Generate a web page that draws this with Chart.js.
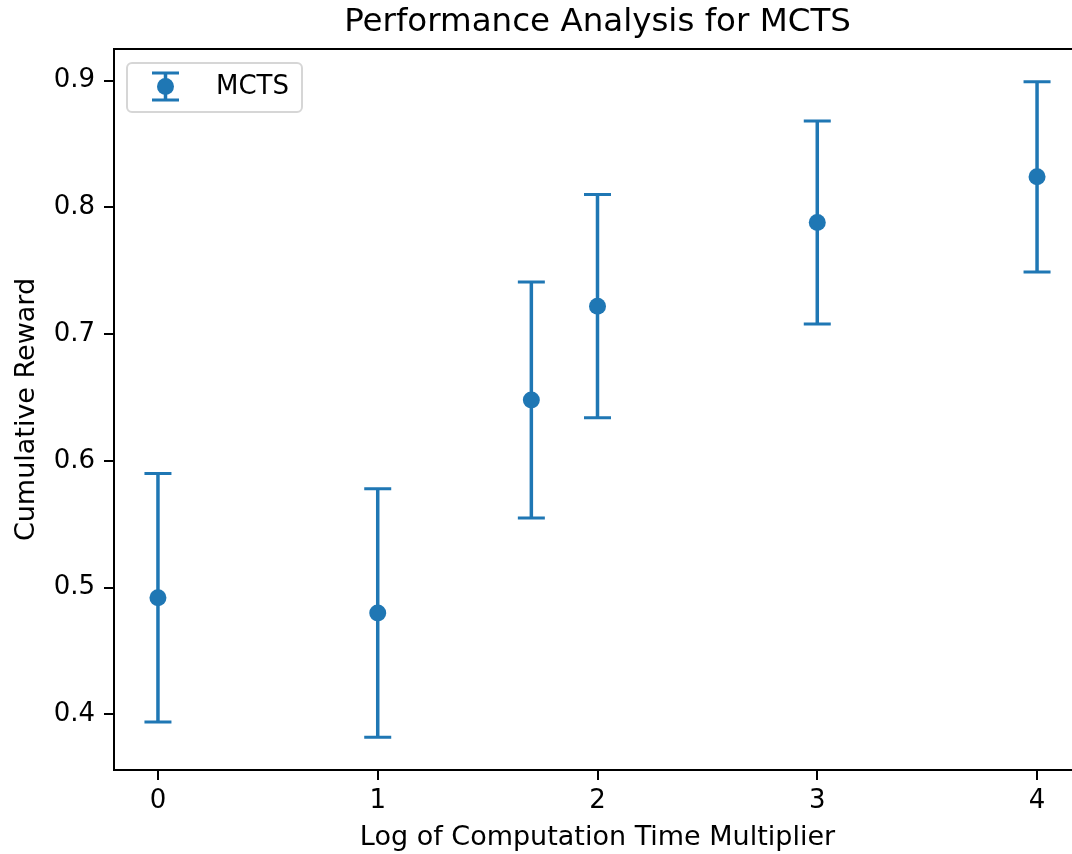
<!DOCTYPE html>
<html>
<head>
<meta charset="utf-8">
<script src="https://cdn.jsdelivr.net/npm/chart.js@4"></script>
<style>
  html, body { margin: 0; padding: 0; background: #fff; overflow: hidden; }
  #wrap { width: 1090px; height: 854px; }
</style>
</head>
<body>
<div id="wrap"><canvas id="myChart" width="1090" height="854"></canvas></div>
<script>
const xValues = [0, 1, 1.699, 2, 3, 4];
const rewards = [0.492, 0.480, 0.648, 0.722, 0.788, 0.824];
const errors = [0.098, 0.098, 0.093, 0.088, 0.080, 0.075];
const xTicks = [0, 1, 2, 3, 4];
const yTicks = [0.4, 0.5, 0.6, 0.7, 0.8, 0.9];

const blue = '#1f77b4';
const fontFamily = 'DejaVu Sans';

// same 5% margins matplotlib adds around the data
function padRange(lo, hi) {
    const m = (hi - lo) * 0.05;
    return [lo - m, hi + m];
}
const [xMin, xMax] = padRange(Math.min(...xValues), Math.max(...xValues));
const [yMin, yMax] = padRange(
    Math.min(...rewards.map((r, i) => r - errors[i])),
    Math.max(...rewards.map((r, i) => r + errors[i]))
);

const errorBars = {
    id: 'errorBars',
    beforeDatasetsDraw(chart) {
        const ctx = chart.ctx;
        const xs = chart.scales.x, ys = chart.scales.y;
        ctx.save();
        ctx.strokeStyle = blue;
        xValues.forEach((x, i) => {
            const px = xs.getPixelForValue(x);
            const top = ys.getPixelForValue(rewards[i] + errors[i]);
            const bot = ys.getPixelForValue(rewards[i] - errors[i]);
            ctx.lineWidth = 3.5;
            ctx.beginPath();
            ctx.moveTo(px, top);
            ctx.lineTo(px, bot);
            ctx.stroke();
            ctx.lineWidth = 3;
            ctx.beginPath();
            ctx.moveTo(px - 13.5, top); ctx.lineTo(px + 13.5, top);
            ctx.moveTo(px - 13.5, bot); ctx.lineTo(px + 13.5, bot);
            ctx.stroke();
        });
        ctx.restore();
    }
};

const frame = {
    id: 'frame',
    afterDatasetsDraw(chart) {
        const a = chart.chartArea, ctx = chart.ctx;
        ctx.save();
        ctx.strokeStyle = '#000';
        ctx.lineWidth = 2;
        ctx.strokeRect(a.left, a.top, a.right - a.left, a.bottom - a.top);
        ctx.restore();
    }
};

const boxLegend = {
    id: 'boxLegend',
    afterDraw(chart) {
        const a = chart.chartArea, ctx = chart.ctx;
        const bx = a.left + 13, by = a.top + 14, bw = 175, bh = 49;
        ctx.save();
        ctx.fillStyle = 'rgba(255,255,255,0.8)';
        ctx.strokeStyle = '#d6d6d6';
        ctx.lineWidth = 2;
        ctx.beginPath();
        ctx.roundRect(bx, by, bw, bh, 5);
        ctx.fill();
        ctx.stroke();

        const cx = bx + 38.5, cy = by + 23.5;
        ctx.strokeStyle = blue;
        ctx.lineWidth = 3.5;
        ctx.beginPath();
        ctx.moveTo(cx, cy - 13.5); ctx.lineTo(cx, cy + 13.5);
        ctx.stroke();
        ctx.lineWidth = 3;
        ctx.beginPath();
        ctx.moveTo(cx - 13.5, cy - 13.5); ctx.lineTo(cx + 13.5, cy - 13.5);
        ctx.moveTo(cx - 13.5, cy + 13.5); ctx.lineTo(cx + 13.5, cy + 13.5);
        ctx.stroke();
        ctx.fillStyle = blue;
        ctx.beginPath();
        ctx.arc(cx, cy, 8.5, 0, Math.PI * 2);
        ctx.fill();

        ctx.fillStyle = '#000';
        ctx.font = '26px "' + fontFamily + '"';
        ctx.textBaseline = 'middle';
        ctx.fillText(chart.data.datasets[0].label, bx + 89, cy + 1);
        ctx.restore();
    }
};

const ctx = document.getElementById('myChart').getContext('2d');
new Chart(ctx, {
    type: 'scatter',
    data: {
        datasets: [{
            label: 'MCTS',
            data: xValues.map((x, i) => ({ x, y: rewards[i] })),
            backgroundColor: blue,
            borderWidth: 0,
            pointRadius: 8.5,
            pointHoverRadius: 8.5
        }]
    },
    options: {
        responsive: false,
        animation: false,
        devicePixelRatio: 1,
        layout: { padding: { left: 0, right: 9, top: 0, bottom: 0 } },
        plugins: {
            legend: { display: false },
            tooltip: { enabled: false },
            title: {
                display: true,
                text: 'Performance Analysis for MCTS',
                fullSize: false,
                color: '#000',
                font: { family: fontFamily, size: 32.5, weight: 'normal' },
                padding: { top: 3, bottom: 7 }
            }
        },
        scales: {
            x: {
                type: 'linear',
                min: xMin,
                max: xMax,
                afterBuildTicks: s => { s.ticks = xTicks.map(v => ({ value: v })); },
                afterFit: s => { s.height = 84; },
                grid: { drawOnChartArea: false, drawTicks: true, tickLength: 10, lineWidth: 2, color: '#000' },
                border: { display: false },
                ticks: {
                    color: '#000',
                    padding: 6,
                    font: { family: fontFamily, size: 26 },
                    callback: v => String(v)
                },
                title: {
                    display: true,
                    text: 'Log of Computation Time Multiplier',
                    color: '#000',
                    font: { family: fontFamily, size: 27 },
                    padding: { top: 0, bottom: 0 }
                }
            },
            y: {
                type: 'linear',
                min: yMin,
                max: yMax,
                afterBuildTicks: s => { s.ticks = yTicks.map(v => ({ value: v })); },
                afterFit: s => { s.width = 114; },
                grid: { drawOnChartArea: false, drawTicks: true, tickLength: 10, lineWidth: 2, color: '#000' },
                border: { display: false },
                ticks: {
                    color: '#000',
                    padding: 9,
                    font: { family: fontFamily, size: 26 },
                    callback: v => v.toFixed(1)
                },
                title: {
                    display: true,
                    text: 'Cumulative Reward',
                    color: '#000',
                    font: { family: fontFamily, size: 27 },
                    padding: { top: 11, bottom: 0 }
                }
            }
        }
    },
    plugins: [errorBars, frame, boxLegend]
});
</script>
</body>
</html>
